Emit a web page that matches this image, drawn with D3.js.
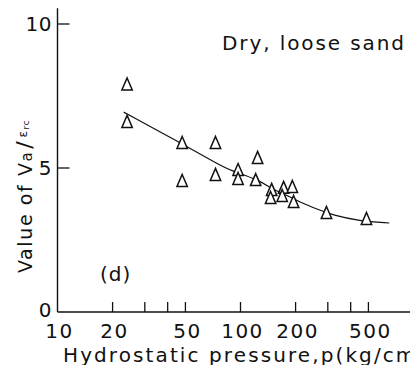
<!DOCTYPE html>
<html>
<head>
<meta charset="utf-8">
<script src="https://cdn.jsdelivr.net/npm/d3@7"></script>
<style>
  html, body { margin: 0; padding: 0; background: #fff; }
  svg { display: block; font-family: "DejaVu Sans", sans-serif; }
</style>
</head>
<body>
<svg width="410" height="365"></svg>
<script>
// Value of Va/e_rc against hydrostatic pressure, dry loose sand (panel d)

const width = 410;
const height = 365;

// measured points (pressure in kg/cm2, ratio)
const pressure = [24, 24, 48, 48, 73, 73, 97, 97, 124, 121, 148, 146, 172, 169, 192, 195, 295, 488];
const ratio = [7.9, 6.6, 5.87, 4.55, 5.87, 4.76, 4.93, 4.62, 5.35, 4.58, 4.24, 3.96, 4.31, 4.03, 4.34, 3.82, 3.44, 3.23];

// fitted curve
const fitPressure = [23, 44, 77, 87, 127, 148, 179, 210, 270, 318, 445, 650];
const fitRatio = [6.94, 5.97, 5.1, 4.93, 4.58, 4.27, 4.06, 3.82, 3.54, 3.37, 3.16, 3.09];

const xTicks = [20, 30, 40, 50, 100, 200, 300, 400, 500];
const xTickLabels = [10, 20, 50, 100, 200, 500];
const yTicks = [5, 10];
const yTickLabels = [0, 5, 10];

const svg = d3.select("svg");

const x = d3.scaleLog().domain([10, 100]).range([57.5, 240.5]);
const y = d3.scaleLinear().domain([0, 10]).range([312, 24]);

const ink = "#111";

// axes lines
svg.append("line")
  .attr("x1", x(10)).attr("x2", width + 5)
  .attr("y1", y(0)).attr("y2", y(0))
  .attr("stroke", ink).attr("stroke-width", 1.4);

svg.append("line")
  .attr("x1", x(10)).attr("x2", x(10))
  .attr("y1", y(0)).attr("y2", y(10.55))
  .attr("stroke", ink).attr("stroke-width", 1.4);

// x ticks (inward)
svg.append("g")
  .selectAll("line")
  .data(xTicks)
  .enter()
  .append("line")
  .attr("x1", (d) => x(d)).attr("x2", (d) => x(d))
  .attr("y1", y(0)).attr("y2", y(0) - 10)
  .attr("stroke", ink).attr("stroke-width", 1.3);

svg.append("g")
  .selectAll("text")
  .data(xTickLabels)
  .enter()
  .append("text")
  .attr("x", (d) => x(d) + 2)
  .attr("y", 338)
  .attr("text-anchor", "middle")
  .attr("font-size", 20)
  .attr("letter-spacing", 1.5)
  .attr("fill", ink)
  .text((d) => d);

// y ticks (inward)
svg.append("g")
  .selectAll("line")
  .data(yTicks)
  .enter()
  .append("line")
  .attr("x1", x(10)).attr("x2", x(10) + 12)
  .attr("y1", (d) => y(d)).attr("y2", (d) => y(d))
  .attr("stroke", ink).attr("stroke-width", 1.3);

svg.append("g")
  .selectAll("text")
  .data(yTickLabels)
  .enter()
  .append("text")
  .attr("x", 52)
  .attr("y", (d) => y(d) + (d === 0 ? 5 : 7))
  .attr("text-anchor", "end")
  .attr("font-size", 20)
  .attr("letter-spacing", 0.5)
  .attr("fill", ink)
  .text((d) => d);

// fitted curve
const fit = fitPressure.map((p, i) => [p, fitRatio[i]]);
const line = d3.line()
  .x((d) => x(d[0]))
  .y((d) => y(d[1]))
  .curve(d3.curveBasis);

svg.append("path")
  .datum(fit)
  .attr("d", line)
  .attr("fill", "none")
  .attr("stroke", ink)
  .attr("stroke-width", 1.2);

// triangles
const points = pressure.map((p, i) => ({ p: p, v: ratio[i] }));
svg.append("g")
  .selectAll("path")
  .data(points)
  .enter()
  .append("path")
  .attr("transform", (d) => "translate(" + x(d.p) + "," + y(d.v) + ")")
  .attr("d", "M0,-6.5L5.2,5.5L-5.2,5.5Z")
  .attr("fill", "#fff")
  .attr("stroke", ink)
  .attr("stroke-width", 1.5)
  .attr("stroke-linejoin", "miter");

// texts
svg.append("text")
  .attr("x", 222)
  .attr("y", 50)
  .attr("font-size", 20)
  .attr("letter-spacing", 1.9)
  .attr("fill", ink)
  .text("Dry, loose sand");

svg.append("text")
  .attr("x", 100)
  .attr("y", 281)
  .attr("font-size", 20)
  .attr("letter-spacing", 1)
  .attr("fill", ink)
  .text("(d)");

svg.append("text")
  .attr("x", 63)
  .attr("y", 362)
  .attr("font-size", 20)
  .attr("letter-spacing", 2.1)
  .attr("fill", ink)
  .text("Hydrostatic pressure,p(kg/cm²)");

const yLabel = svg.append("text")
  .attr("transform", "translate(32,273) rotate(-90)")
  .attr("font-size", 19)
  .attr("letter-spacing", 1.6)
  .attr("fill", ink);
yLabel.append("tspan").text("Value of  V");
yLabel.append("tspan").attr("font-size", 15).text("a");
yLabel.append("tspan").attr("font-size", 22).attr("dx", 2).text("/");
yLabel.append("tspan").attr("font-size", 12).attr("dy", -5).attr("dx", 2).text("ε");
yLabel.append("tspan").attr("font-size", 9).attr("dy", 2).attr("letter-spacing", 0.5).text("rc");
</script>
</body>
</html>
